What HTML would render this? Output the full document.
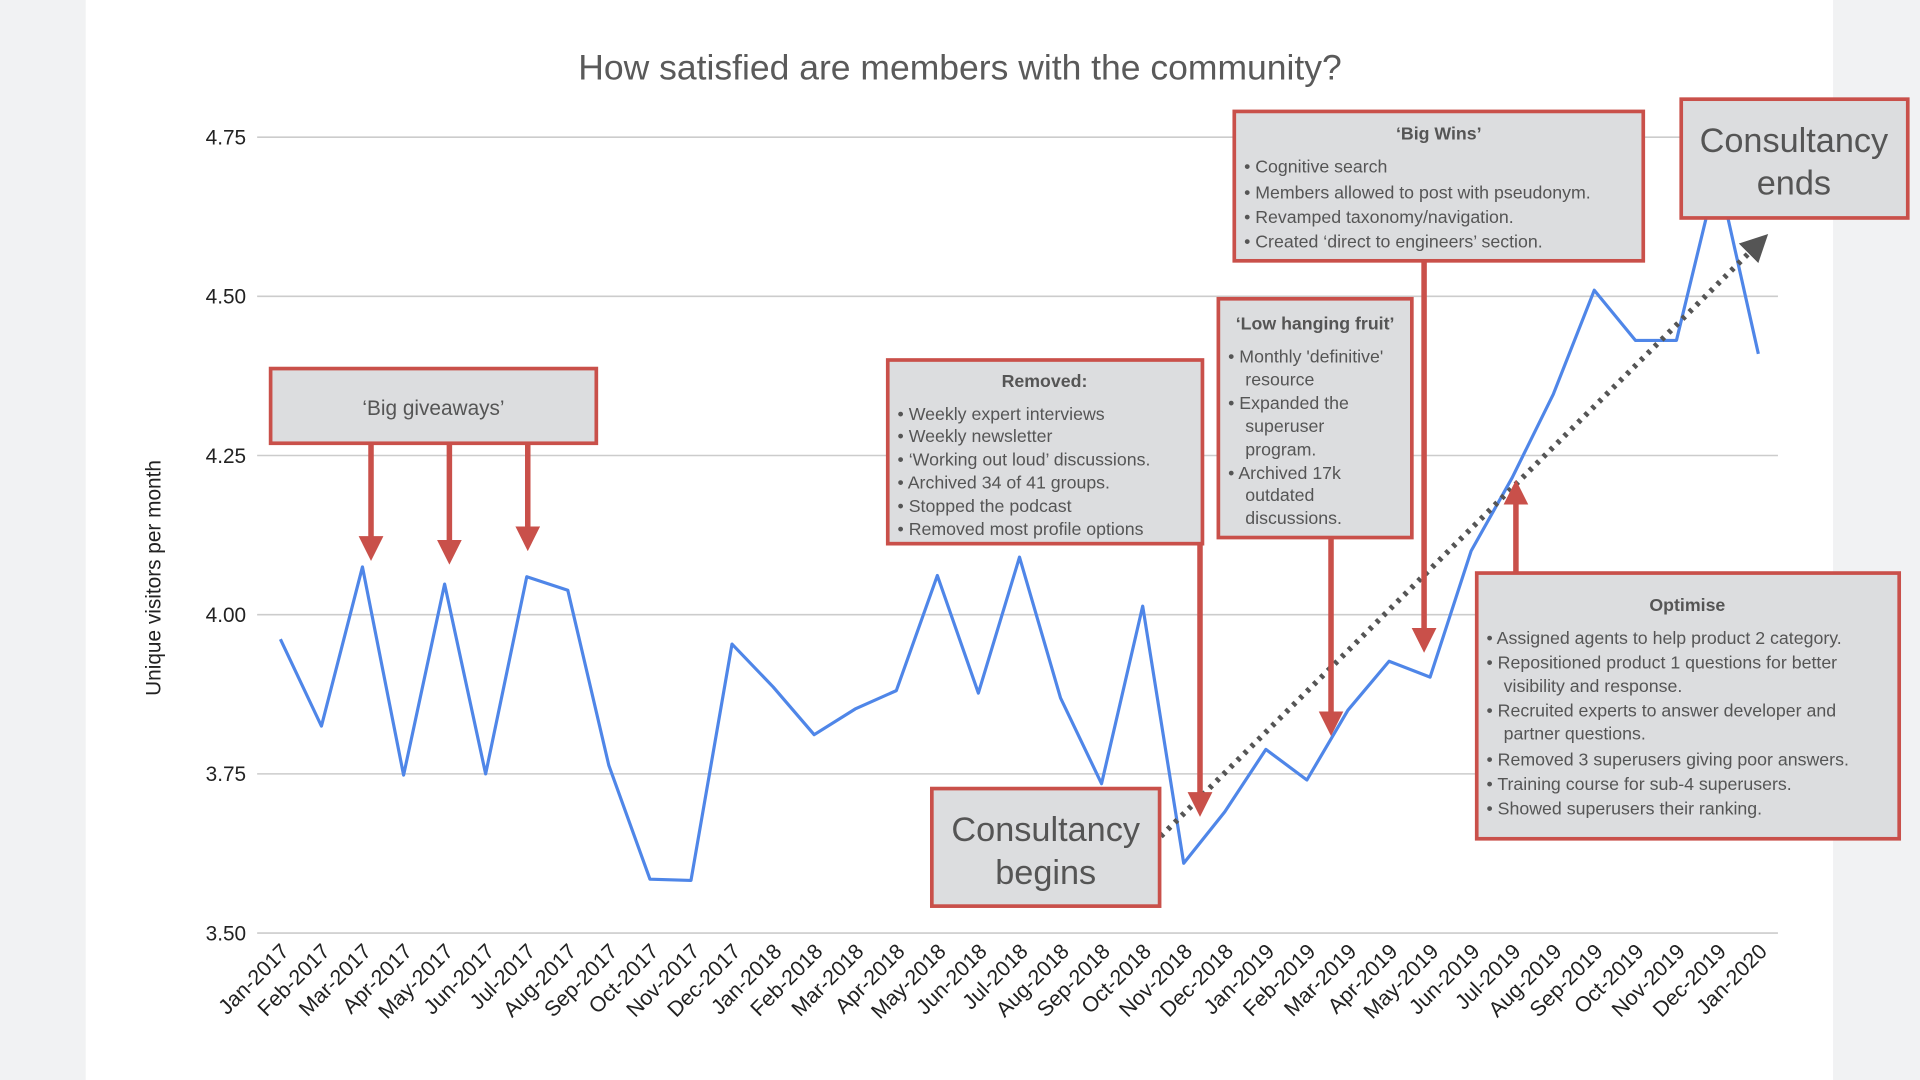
<!DOCTYPE html>
<html><head><meta charset="utf-8"><style>
html,body{margin:0;padding:0;background:#f1f2f3;}
svg{display:block;font-family:"Liberation Sans",Arial,sans-serif;}
</style></head><body>
<svg width="1920" height="1080" viewBox="0 0 1568 882" xmlns="http://www.w3.org/2000/svg">
<defs>
<marker id="ar" viewBox="0 0 10 10" refX="5" refY="5" markerWidth="4.5" markerHeight="4.5" orient="auto"><path d="M0,0 L10,5 L0,10 z" fill="#c9504a"/></marker>
<marker id="ag" viewBox="0 0 10 10" refX="5" refY="5" markerWidth="5" markerHeight="5" orient="auto"><path d="M0,0 L10,5 L0,10 z" fill="#555"/></marker>
</defs>
<rect x="0" y="0" width="1568" height="882" fill="#f1f2f3"/>
<rect x="70" y="0" width="1427" height="882" fill="#fff"/>
<text x="784" y="65" text-anchor="middle" font-size="29" fill="#5a5a5a">How satisfied are members with the community?</text>
<g stroke="#ccc" stroke-width="1.3">
<line x1="210" x2="1452" y1="112" y2="112"/><line x1="210" x2="1452" y1="242" y2="242"/>
<line x1="210" x2="1452" y1="372" y2="372"/><line x1="210" x2="1452" y1="502" y2="502"/>
<line x1="210" x2="1452" y1="632" y2="632"/><line x1="210" x2="1452" y1="762" y2="762"/>
</g>
<g font-size="17" fill="#222" text-anchor="end">
<text x="201" y="118">4.75</text><text x="201" y="248">4.50</text><text x="201" y="378">4.25</text>
<text x="201" y="508">4.00</text><text x="201" y="638">3.75</text><text x="201" y="768">3.50</text>
</g>
<text transform="translate(131,472) rotate(-90)" text-anchor="middle" font-size="17" fill="#222">Unique visitors per month</text>
<g font-size="17.5" fill="#222" text-anchor="end">
<text transform="translate(237,778) rotate(-45)">Jan-2017</text>
<text transform="translate(270.5,778) rotate(-45)">Feb-2017</text>
<text transform="translate(304.1,778) rotate(-45)">Mar-2017</text>
<text transform="translate(337.6,778) rotate(-45)">Apr-2017</text>
<text transform="translate(371.1,778) rotate(-45)">May-2017</text>
<text transform="translate(404.7,778) rotate(-45)">Jun-2017</text>
<text transform="translate(438.2,778) rotate(-45)">Jul-2017</text>
<text transform="translate(471.7,778) rotate(-45)">Aug-2017</text>
<text transform="translate(505.2,778) rotate(-45)">Sep-2017</text>
<text transform="translate(538.8,778) rotate(-45)">Oct-2017</text>
<text transform="translate(572.3,778) rotate(-45)">Nov-2017</text>
<text transform="translate(605.8,778) rotate(-45)">Dec-2017</text>
<text transform="translate(639.4,778) rotate(-45)">Jan-2018</text>
<text transform="translate(672.9,778) rotate(-45)">Feb-2018</text>
<text transform="translate(706.4,778) rotate(-45)">Mar-2018</text>
<text transform="translate(739.9,778) rotate(-45)">Apr-2018</text>
<text transform="translate(773.5,778) rotate(-45)">May-2018</text>
<text transform="translate(807,778) rotate(-45)">Jun-2018</text>
<text transform="translate(840.5,778) rotate(-45)">Jul-2018</text>
<text transform="translate(874.1,778) rotate(-45)">Aug-2018</text>
<text transform="translate(907.6,778) rotate(-45)">Sep-2018</text>
<text transform="translate(941.1,778) rotate(-45)">Oct-2018</text>
<text transform="translate(974.7,778) rotate(-45)">Nov-2018</text>
<text transform="translate(1008.2,778) rotate(-45)">Dec-2018</text>
<text transform="translate(1041.7,778) rotate(-45)">Jan-2019</text>
<text transform="translate(1075.3,778) rotate(-45)">Feb-2019</text>
<text transform="translate(1108.8,778) rotate(-45)">Mar-2019</text>
<text transform="translate(1142.3,778) rotate(-45)">Apr-2019</text>
<text transform="translate(1175.8,778) rotate(-45)">May-2019</text>
<text transform="translate(1209.4,778) rotate(-45)">Jun-2019</text>
<text transform="translate(1242.9,778) rotate(-45)">Jul-2019</text>
<text transform="translate(1276.4,778) rotate(-45)">Aug-2019</text>
<text transform="translate(1310,778) rotate(-45)">Sep-2019</text>
<text transform="translate(1343.5,778) rotate(-45)">Oct-2019</text>
<text transform="translate(1377,778) rotate(-45)">Nov-2019</text>
<text transform="translate(1410.6,778) rotate(-45)">Dec-2019</text>
<text transform="translate(1444.1,778) rotate(-45)">Jan-2020</text>
</g>
<polyline fill="none" stroke="#4f86e8" stroke-width="2.6" stroke-linejoin="round" points="229,522 262.5,593 296,463 329.6,633 363.1,477 396.6,632 430.2,471 463.7,482 497.2,625 530.8,718 564.3,719 597.8,526 631.4,561 664.9,600 698.4,579 732,564 765.5,470 799,566 832.6,455 866.1,570 899.6,640 933.2,495 966.7,705 1000.2,663 1033.8,612 1067.3,637 1100.8,580 1134.4,540 1167.9,553 1201.4,450 1235,390 1268.5,322 1302,237 1335.6,278 1369.1,278 1402.6,140 1436,289"/>
<line x1="948" y1="683" x2="1436" y2="199" stroke="#555" stroke-width="4.5" stroke-dasharray="3,5" marker-end="url(#ag)"/>
<g stroke="#c9504a" stroke-width="4.5" marker-end="url(#ar)">
<line x1="303" y1="362" x2="303" y2="448"/><line x1="367" y1="362" x2="367" y2="451"/><line x1="431" y1="362" x2="431" y2="440"/>
<line x1="980" y1="345" x2="980" y2="657"/><line x1="1087" y1="439" x2="1087" y2="591"/>
<line x1="1163" y1="213" x2="1163" y2="523"/><line x1="1238" y1="468" x2="1238" y2="402"/>
</g>
<g fill="#dcdddf" stroke="#c9504a" stroke-width="3">
<rect x="221" y="301" width="266" height="61"/>
<rect x="725" y="294" width="257" height="150"/>
<rect x="995" y="244" width="158" height="195"/>
<rect x="1008" y="91" width="334" height="122"/>
<rect x="1373" y="81" width="185" height="97"/>
<rect x="1206" y="468" width="345" height="217"/>
<rect x="761" y="644" width="186" height="96"/>
</g>
<g fill="#555" font-size="14.5">
<text x="354" y="339" text-anchor="middle" font-size="17">‘Big giveaways’</text>
<text x="853" y="316" text-anchor="middle" font-weight="bold">Removed:</text>
<text x="733" y="343">•  Weekly expert interviews</text>
<text x="733" y="361">•  Weekly newsletter</text>
<text x="733" y="380">•  ‘Working out loud’ discussions.</text>
<text x="733" y="399">•  Archived 34 of 41 groups.</text>
<text x="733" y="418">•  Stopped the podcast</text>
<text x="733" y="437">•  Removed most profile options</text>
<text x="1074" y="269" text-anchor="middle" font-weight="bold">‘Low hanging fruit’</text>
<text x="1003" y="296">•  Monthly 'definitive'</text>
<text x="1017" y="315">resource</text>
<text x="1003" y="334">•  Expanded the</text>
<text x="1017" y="353">superuser</text>
<text x="1017" y="372">program.</text>
<text x="1003" y="391">•  Archived 17k</text>
<text x="1017" y="409">outdated</text>
<text x="1017" y="428">discussions.</text>
<text x="1175" y="114" text-anchor="middle" font-weight="bold">‘Big Wins’</text>
<text x="1016" y="141">•  Cognitive search</text>
<text x="1016" y="162">•  Members allowed to post with pseudonym.</text>
<text x="1016" y="182">•  Revamped taxonomy/navigation.</text>
<text x="1016" y="202">•  Created ‘direct to engineers’ section.</text>
<text x="1465" y="124" text-anchor="middle" font-size="28">Consultancy</text>
<text x="1465" y="159" text-anchor="middle" font-size="28">ends</text>
<text x="1378" y="499" text-anchor="middle" font-weight="bold">Optimise</text>
<text x="1214" y="526">•  Assigned agents to help product 2 category.</text>
<text x="1214" y="546">•  Repositioned product 1 questions for better</text>
<text x="1228" y="565">visibility and response.</text>
<text x="1214" y="585">•  Recruited experts to answer developer and</text>
<text x="1228" y="604">partner questions.</text>
<text x="1214" y="625">•  Removed 3 superusers giving poor answers.</text>
<text x="1214" y="645">•  Training course for sub-4 superusers.</text>
<text x="1214" y="665">•  Showed superusers their ranking.</text>
<text x="854" y="687" text-anchor="middle" font-size="28">Consultancy</text>
<text x="854" y="722" text-anchor="middle" font-size="28">begins</text>
</g>
</svg>
</body></html>
